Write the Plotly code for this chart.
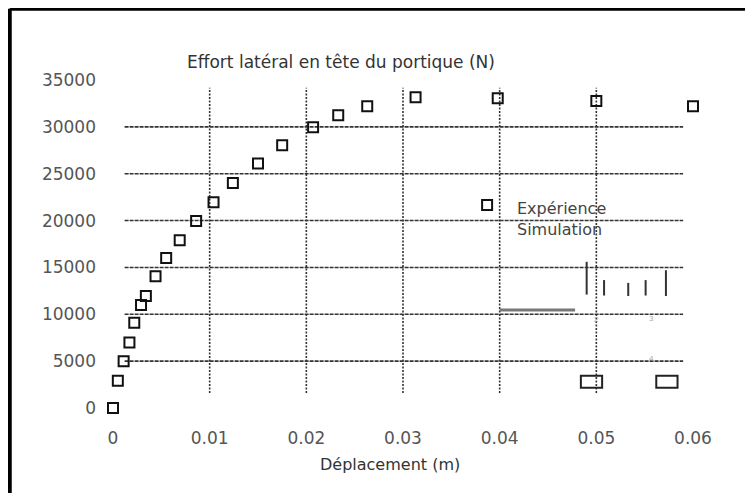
import plotly.graph_objects as go

# Experimental points: displacement (m) and lateral force (N)
deplacement = [0.0, 0.0005, 0.0011, 0.0017, 0.0022, 0.0029, 0.0034, 0.0044, 0.0055,
               0.0069, 0.0086, 0.0104, 0.0124, 0.0150, 0.0175, 0.0207, 0.0233,
               0.0263, 0.0313, 0.0398, 0.0500, 0.0600]
effort = [0, 2900, 5000, 7000, 9100, 11000, 11950, 14050, 16000, 17900, 19950,
          21950, 24000, 26100, 28050, 29950, 31250, 32200, 33150, 33050, 32750, 32200]

# Legend artefacts (as in the scanned figure)
legend_marker_x = [0.0387]
legend_marker_y = [21650]
legend_labels = ["Expérience", "Simulation"]
legend_label_x = [0.0416, 0.0416]
legend_label_y = [21300, 19100]
sim_line_x = [0.0400, 0.0478]
sim_line_y = [10450, 10450]
tick_marks_x = [0.0490, 0.0508, 0.0533, 0.0551, 0.0572]
tick_marks_top = [15600, 13650, 13350, 13650, 14700]
tick_marks_bottom = [12100, 12000, 11950, 12000, 11950]
box_x = [0.0495, 0.0573]
box_y = [2800, 2800]
small_labels = ["2", "3", "4"]
small_x = [0.0500, 0.0557, 0.0557]
small_y = [9400, 9600, 5300]

x_ticks = [0, 0.01, 0.02, 0.03, 0.04, 0.05, 0.06]
x_ticklabels = ["0", "0.01", "0.02", "0.03", "0.04", "0.05", "0.06"]
y_ticks = [0, 5000, 10000, 15000, 20000, 25000, 30000, 35000]
y_ticklabels = ["0", "5000", "10000", "15000", "20000", "25000", "30000", "35000"]
x_grid = [0.01, 0.02, 0.03, 0.04, 0.05]
y_grid = [5000, 10000, 15000, 20000, 25000, 30000]

FONT = "DejaVu Sans, sans-serif"
FONT2 = "Liberation Sans, Arial, sans-serif"

fig = go.Figure()

shapes = []
for gx in x_grid:
    shapes.append(dict(type="line", xref="x", yref="paper", x0=gx, x1=gx, y0=0.046, y1=0.976,
                       line=dict(color="#333333", width=1.6, dash="2px,1.5px"), layer="below"))
for gy in y_grid:
    shapes.append(dict(type="line", xref="paper", yref="y", x0=0.02, x1=0.983, y0=gy, y1=gy,
                       line=dict(color="#333333", width=1.6, dash="4px,1px"), layer="below"))

for bx, by in zip(box_x, box_y):
    shapes.append(dict(type="rect", xref="x", yref="y", x0=bx - 0.0011, x1=bx + 0.0011,
                       y0=by - 650, y1=by + 650, line=dict(color="#222222", width=2)))

for tx, t0, t1 in zip(tick_marks_x, tick_marks_top, tick_marks_bottom):
    shapes.append(dict(type="line", xref="x", yref="y", x0=tx, x1=tx, y0=t1, y1=t0,
                       line=dict(color="#333333", width=2)))

# frame border (top and left only)
shapes.append(dict(type="line", xref="paper", yref="paper", x0=-0.178, x1=1.2, y0=1.217, y1=1.217,
                   line=dict(color="black", width=4)))
shapes.append(dict(type="line", xref="paper", yref="paper", x0=-0.178, x1=-0.178, y0=-0.3, y1=1.217,
                   line=dict(color="black", width=4)))

fig.add_trace(go.Scatter(x=sim_line_x, y=sim_line_y, mode="lines",
                         line=dict(color="#777777", width=3), showlegend=False, cliponaxis=False))
fig.add_trace(go.Scatter(x=deplacement, y=effort, mode="markers",
                         marker=dict(symbol="square-open", size=10, color="#111111",
                                     line=dict(width=2, color="#111111")),
                         showlegend=False, cliponaxis=False))
fig.add_trace(go.Scatter(x=legend_marker_x, y=legend_marker_y, mode="markers",
                         marker=dict(symbol="square-open", size=10, color="#111111",
                                     line=dict(width=2, color="#111111")),
                         showlegend=False, cliponaxis=False))

annotations = []
for lab, lx, ly in zip(legend_labels, legend_label_x, legend_label_y):
    annotations.append(dict(x=lx, y=ly, xref="x", yref="y", text=lab, showarrow=False,
                            xanchor="left", yanchor="middle",
                            font=dict(family=FONT, size=16, color="#444444")))
for lab, lx, ly in zip(small_labels, small_x, small_y):
    annotations.append(dict(x=lx, y=ly, xref="x", yref="y", text=lab, showarrow=False,
                            font=dict(family=FONT2, size=8, color="#aaaaaa")))
annotations.append(dict(x=0.393, y=1.055, xref="paper", yref="paper",
                        text="Effort latéral en tête du portique (N)", showarrow=False,
                        xanchor="center", yanchor="middle",
                        font=dict(family=FONT, size=17, color="#333333")))
annotations.append(dict(x=0.478, y=-0.171, xref="paper", yref="paper",
                        text="Déplacement (m)", showarrow=False,
                        xanchor="center", yanchor="middle",
                        font=dict(family=FONT, size=16, color="#333333")))

fig.update_layout(
    width=745, height=485,
    margin=dict(l=105, r=60, t=72, b=85),
    paper_bgcolor="white", plot_bgcolor="white",
    shapes=shapes, annotations=annotations,
    xaxis=dict(range=[0, 0.06], tickvals=x_ticks, ticktext=x_ticklabels, showgrid=False,
               zeroline=False, showline=False, ticks="", ticklabelstandoff=18,
               tickfont=dict(family=FONT, size=17, color="#555555")),
    yaxis=dict(range=[0, 35000], tickvals=y_ticks, ticktext=y_ticklabels, showgrid=False,
               zeroline=False, showline=False, ticks="", ticklabelstandoff=16,
               tickfont=dict(family=FONT, size=17, color="#555555")),
)

fig.write_html("out.html")
